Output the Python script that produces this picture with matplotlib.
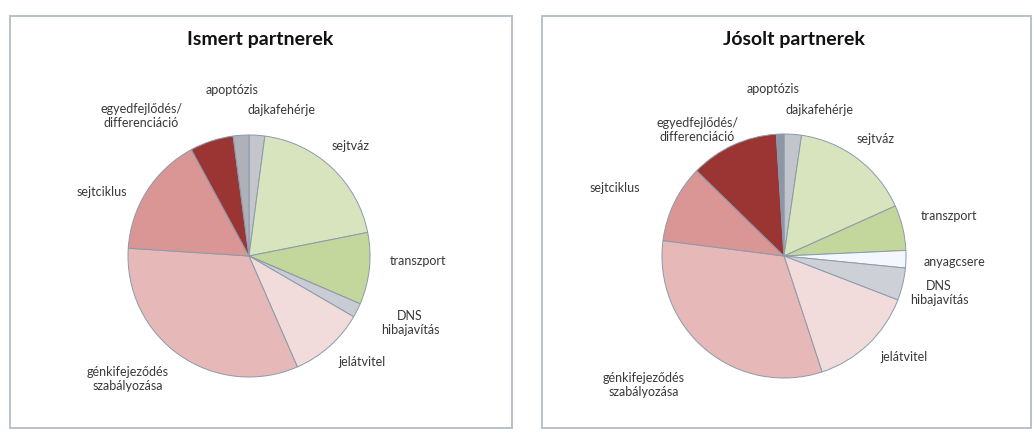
import matplotlib.pyplot as plt
from matplotlib.patches import Rectangle

plt.rcParams['font.family'] = ['Lato', 'DejaVu Sans']

# categories in Excel order (clockwise from 12 o'clock)
categories = ['dajkafehérje', 'sejtváz', 'transzport', 'anyagcsere', 'DNS\nhibajavítás',
              'jelátvitel', 'génkifejeződés\nszabályozása', 'sejtciklus',
              'egyedfejlődés/\ndifferenciáció', 'apoptózis']
ismert = [2.1, 19.8, 9.6, 0.0, 1.9, 10.1, 32.6, 16.1, 5.8, 2.1]
josolt = [2.3, 16.0, 6.0, 2.3, 4.3, 14.1, 32.1, 10.3, 11.7, 1.0]

colors_ismert = ['#c4c6cc', '#d7e4bd', '#c3d69b', '#f4f7fb', '#c9ccd3',
                 '#f2dcdb', '#e6b9b8', '#d99694', '#9b3533', '#aeb1b8']
colors_josolt = ['#c2c5cb', '#d7e4bd', '#c3d69b', '#f4f7fb', '#cdd0d6',
                 '#f2dcdb', '#e6b9b8', '#d99694', '#9b3533', '#8d97a4']

# label placement (in pie-radius units), per panel
pos_ismert = [(0.27, 1.21), (0.84, 0.91), (1.40, -0.04), None, (1.33, -0.55),
              (0.93, -0.88), (-1.0, -1.02), (-1.22, 0.53), (-0.89, 1.16), (-0.14, 1.37)]
pos_josolt = [(0.29, 1.20), (0.75, 0.96), (1.35, 0.33), (1.40, -0.05), (1.27, -0.30),
              (0.98, -0.83), (-1.15, -1.06), (-1.39, 0.56), (-0.71, 1.03), (-0.09, 1.37)]

W, H = 1034, 438
fig = plt.figure(figsize=(W / 100, H / 100), dpi=100)
fig.patch.set_facecolor('white')

# panel frames
for x0, x1 in [(10, 512), (542, 1031)]:
    fig.patches.append(Rectangle((x0 / W, (H - 428) / H), (x1 - x0) / W, 412 / H,
                                 transform=fig.transFigure, fill=False,
                                 edgecolor='#b9c2cb', linewidth=1.4))


def draw(x0, x1, cx, cy, r, values, cols, positions, title, tx):
    ax = fig.add_axes([x0 / W, 0, (x1 - x0) / W, 1])
    vals = [v if v > 0 else 1e-9 for v in values]
    ax.pie(vals, colors=cols, startangle=90, counterclock=False,
           wedgeprops=dict(edgecolor='#8c9aab', linewidth=0.7))
    ax.set_aspect('auto')
    ax.set_xlim(-(cx - x0) / r, (x1 - cx) / r)
    ax.set_ylim(-(H - cy) / r, cy / r)
    for lab, v, p in zip(categories, values, positions):
        if v <= 0 or p is None:
            continue
        ax.text(p[0], p[1], lab, ha='center', va='center', fontsize=9,
                color='#383838', linespacing=1.2)
    fig.text(tx / W, 1 - 40 / H, title, ha='center', va='center',
             fontsize=14, fontweight='bold', color='#111111')


draw(0, 517, 249, 256, 121, ismert, colors_ismert, pos_ismert, 'Ismert partnerek', 260)
draw(517, 1034, 784, 256, 122, josolt, colors_josolt, pos_josolt, 'Jósolt partnerek', 794)

fig.savefig('out.png', dpi=100)
